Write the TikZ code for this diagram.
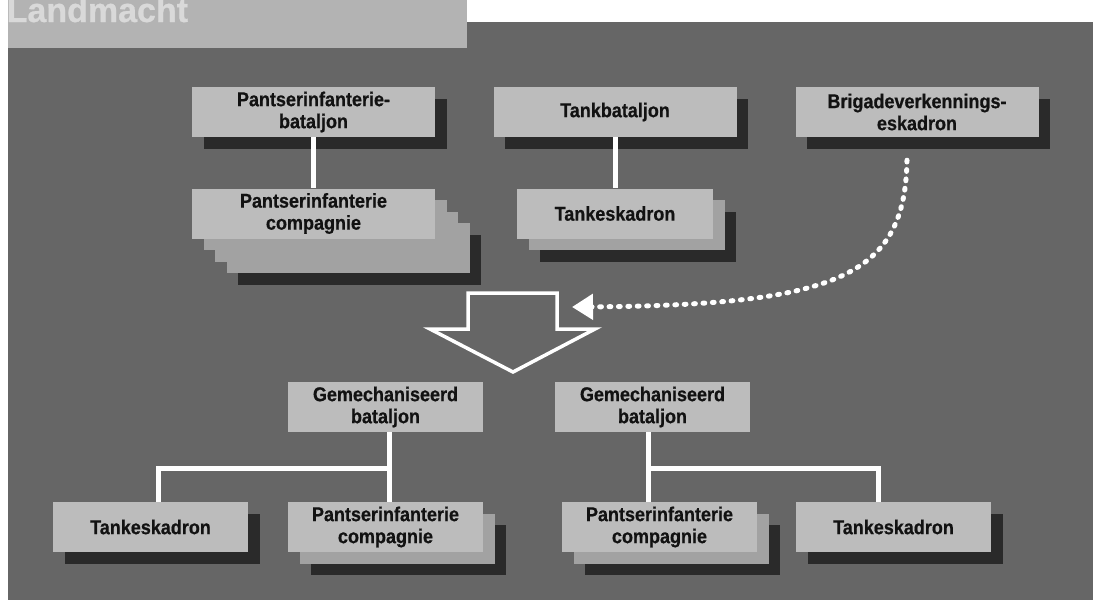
\documentclass[tikz,border=0pt]{standalone}
\usepackage{fontspec}
\setmainfont{Liberation Sans}
\newfontfamily\boxfont[FakeStretch=0.9, FakeBold=0.6]{Liberation Sans Bold}
\newfontfamily\tabfont[FakeBold=0.8]{Liberation Sans Bold}
\usetikzlibrary{shadows,calc,arrows.meta}

\definecolor{bgdark}{HTML}{666666}
\definecolor{titlegray}{HTML}{B3B3B3}
\definecolor{boxgray}{HTML}{BCBCBC}
\definecolor{layergray}{HTML}{A2A2A2}
\definecolor{shadowgray}{HTML}{2A2A2A}
\definecolor{titletext}{HTML}{D9D9D9}
\definecolor{inktext}{HTML}{121212}

\tikzset{
  unit/.style={fill=boxgray, inner sep=0pt, minimum height=50pt, align=center,
    text=inktext, font=\boxfont\fontsize{20}{22}\selectfont},
  wide/.style={unit, minimum width=243pt},
  narrow/.style={unit, minimum width=195pt},
  % one dark drop shadow
  shadowed/.style={general shadow={shadow xshift=11.5pt, shadow yshift=-11.5pt, fill=shadowgray}},
  % one grey copy plus dark shadow
  layered/.style={
    general shadow={shadow xshift=23pt, shadow yshift=-23pt, fill=shadowgray},
    general shadow={shadow xshift=11.5pt, shadow yshift=-11.5pt, fill=layergray}},
  % three grey copies plus dark shadow
  stacked/.style={
    general shadow={shadow xshift=46pt, shadow yshift=-46pt, fill=shadowgray},
    general shadow={shadow xshift=34.5pt, shadow yshift=-34.5pt, fill=layergray},
    general shadow={shadow xshift=23pt, shadow yshift=-23pt, fill=layergray},
    general shadow={shadow xshift=11.5pt, shadow yshift=-11.5pt, fill=layergray}},
  link/.style={draw=white, line width=5pt},
  hollowarrow/.style={draw=white, line width=3.5pt, line join=miter},
  dotted arrow/.style={draw=white, line width=5pt, line cap=round,
    dash pattern=on 1.8pt off 7.6pt, -{Triangle[length=21pt,width=25pt]}},
}

\begin{document}
\begin{tikzpicture}[x=1pt, y=-1pt]
  \useasboundingbox (0,0) rectangle (1093,600);
  \clip (0,0) rectangle (1093,600);

  % backdrop and title tab
  \fill[bgdark] (8,22) rectangle (1093,600);
  \fill[titlegray] (8,0) rectangle (467,48);
  \node[anchor=base west, inner sep=0pt, text=titletext,
        font=\tabfont\fontsize{34}{34}\selectfont] (title) at (6.5,22) {Landmacht};

  % current organisation
  \node[wide, shadowed] (A) at (313.5,112) {Pantserinfanterie-\\bataljon};
  \node[wide, shadowed] (B) at (615,112) {Tankbataljon};
  \node[wide, shadowed] (C) at (917,112) {Brigadeverkennings-\\eskadron};
  \node[wide, stacked] (D) at (313.5,213.5) {Pantserinfanterie\\compagnie};
  \node[unit, minimum width=196pt, layered] (E) at (615,213.5) {Tankeskadron};

  \draw[link] (A) -- (D);
  \draw[link] (B) -- (E);

  % transition arrow
  \draw[hollowarrow] (468,293) -- (557,293) -- (557,329) -- (595,329)
    -- (513,372) -- (430,329) -- (468,329) -- cycle;
  \coordinate (dstart) at ($(C.south)+(-10,23)$);
  \coordinate (dtip) at (572,307);
  \draw[dotted arrow] (dstart) .. controls (905,275) and (840,305) .. (dtip);

  % new organisation
  \node[narrow] (F) at (385.5,407) {Gemechaniseerd\\bataljon};
  \node[narrow] (I) at (652.5,407) {Gemechaniseerd\\bataljon};
  \node[narrow, shadowed] (G) at (150.5,527) {Tankeskadron};
  \node[narrow, layered] (H) at (385.5,527) {Pantserinfanterie\\compagnie};
  \node[narrow, layered] (J) at (659.5,527) {Pantserinfanterie\\compagnie};
  \node[narrow, shadowed] (K) at (893.5,527) {Tankeskadron};

  \draw[link] ($(F.south)+(3.5,0)$) -- ($(H.north)+(3.5,0)$);
  \draw[link] ($(F.south)+(3.5,36)$) -| ($(G.north)+(8,0)$);
  \draw[link] ($(I.south)+(-4.5,0)$) -- ($(J.north)+(-11.5,0)$);
  \draw[link] ($(I.south)+(-4.5,36)$) -| ($(K.north)+(-15.5,0)$);
\end{tikzpicture}
\end{document}
